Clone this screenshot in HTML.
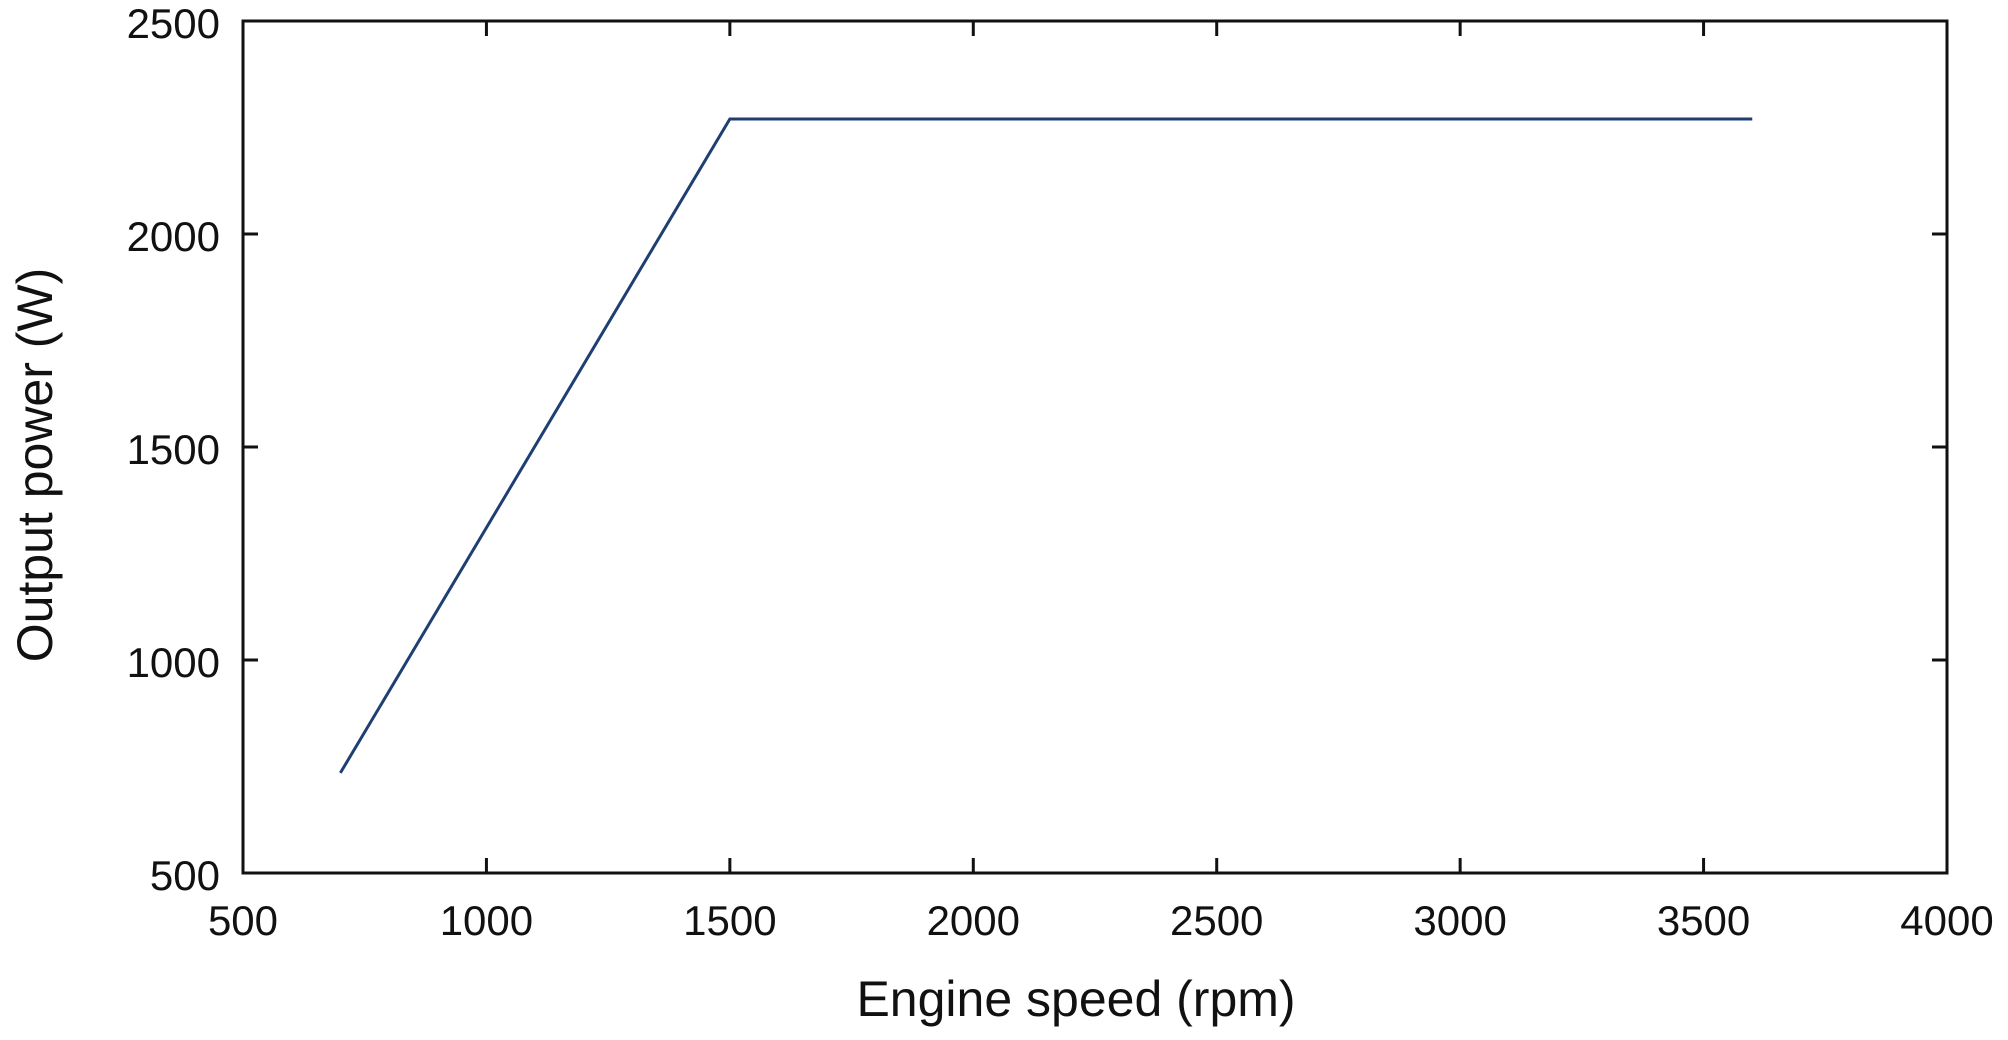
<!DOCTYPE html>
<html><head><meta charset="utf-8"><style>
body{margin:0;background:#fff;}
svg{display:block;font-family:"Liberation Sans",Arial,sans-serif;}
</style></head><body>
<svg id="chart" width="2008" height="1040" viewBox="0 0 2008 1040">
<g id="ticks"></g>
<rect x="243" y="21" width="1704" height="852" fill="none" stroke="#111" stroke-width="3"/>
<polyline id="series" fill="none" stroke="#1f3f73" stroke-width="3"/>
<text x="1076" y="1016" font-size="50" text-anchor="middle" fill="#111">Engine speed (rpm)</text>
<text transform="translate(52,465) rotate(-90)" font-size="50" text-anchor="middle" fill="#111">Output power (W)</text>
</svg>
<script>
const speeds=[700,1500,3600];
const powers=[735,2270,2270];
const xTicks=[500,1000,1500,2000,2500,3000,3500,4000];
const yTicks=[500,1000,1500,2000,2500];
const X=v=>243+(v-500)/3500*1704;
const Y=v=>873-(v-500)/2000*852;
const ns="http://www.w3.org/2000/svg";
const g=document.getElementById('ticks');
function mk(t,a){const e=document.createElementNS(ns,t);for(const k in a)e.setAttribute(k,a[k]);return e;}
xTicks.forEach(v=>{
  const x=X(v);
  [[873,858],[21,36]].forEach(p=>{const l=mk('line',{x1:x,x2:x,y1:p[0],y2:p[1],stroke:'#111','stroke-width':3});
  
  
  g.appendChild(l);});
  const t=mk('text',{x:x,y:935,'font-size':42,'text-anchor':'middle',fill:'#111'});
  
  
  t.textContent=v;g.appendChild(t);
});
yTicks.forEach(v=>{
  const y=Y(v);
  [[243,258],[1947,1932]].forEach(p=>{const l=mk('line',{x1:p[0],x2:p[1],y1:y,y2:y,stroke:'#111','stroke-width':3});
  
  
  g.appendChild(l);});
  const t=mk('text',{x:220,y:y+17,'font-size':42,'text-anchor':'end',fill:'#111'});
  
  
  t.textContent=v;g.appendChild(t);
});
document.getElementById('series').setAttribute('points',speeds.map((s,i)=>X(s)+','+Y(powers[i])).join(' '));
</script>
</body></html>
